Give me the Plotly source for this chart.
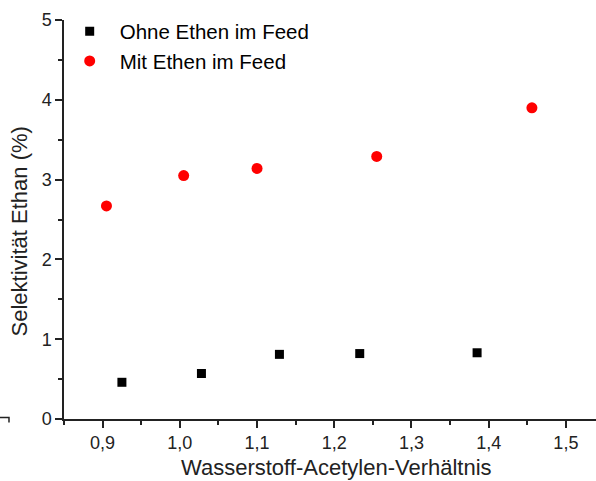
import plotly.graph_objects as go

# Wasserstoff-Acetylen-Verhältnis and Ethan selectivity (%)
x_ohne = [0.925, 1.028, 1.129, 1.233, 1.385]
y_ohne = [0.46, 0.57, 0.81, 0.82, 0.83]

x_mit = [0.905, 1.005, 1.100, 1.255, 1.456]
y_mit = [2.67, 3.05, 3.14, 3.29, 3.90]

x_tickvals = [0.9, 1.0, 1.1, 1.2, 1.3, 1.4, 1.5]
x_ticktext = ["0,9", "1,0", "1,1", "1,2", "1,3", "1,4", "1,5"]
y_tickvals = [0, 1, 2, 3, 4, 5]

x_title = "Wasserstoff-Acetylen-Verhältnis"
y_title = "Selektivität Ethan (%)"

FONT = "Liberation Sans, Arial, sans-serif"
INK = "#222222"

fig = go.Figure()
fig.add_trace(go.Scatter(
    x=x_ohne, y=y_ohne, mode="markers", name="Ohne Ethen im Feed",
    marker=dict(symbol="square", size=9, color="black", line=dict(width=0)),
))
fig.add_trace(go.Scatter(
    x=x_mit, y=y_mit, mode="markers", name="Mit Ethen im Feed",
    marker=dict(symbol="circle", size=11, color="#ff0000", line=dict(width=0)),
))

axis_common = dict(
    showline=True, linecolor=INK, linewidth=1.5,
    ticks="outside", tickcolor=INK, tickwidth=1.5, ticklen=7,
    showgrid=False, zeroline=False, mirror=False,
    tickfont=dict(family=FONT, size=18, color=INK),
)

fig.update_xaxes(
    range=[0.85, 1.539], tickvals=x_tickvals, ticktext=x_ticktext,
    minor=dict(dtick=0.05, ticks="outside", ticklen=4, tickcolor=INK, tickwidth=1.5),
    **axis_common,
)
fig.update_yaxes(
    range=[0, 5], tickvals=y_tickvals,
    minor=dict(dtick=0.5, ticks="outside", ticklen=4, tickcolor=INK, tickwidth=1.5),
    **axis_common,
)

# axis titles
fig.add_annotation(text=x_title, xref="paper", yref="paper", x=0.512, y=-0.121,
                   xanchor="center", yanchor="middle", showarrow=False,
                   font=dict(family=FONT, size=22, color=INK))
fig.add_annotation(text=y_title, xref="paper", yref="paper", x=-0.0846, y=0.47,
                   xanchor="center", yanchor="middle", showarrow=False, textangle=-90,
                   font=dict(family=FONT, size=22, color=INK))

# small bracket mark at the lower left edge
fig.add_shape(type="path", xref="paper", yref="paper",
              path="M -0.1203 0.0035 L -0.1034 0.0035 L -0.1034 -0.0090",
              line=dict(color=INK, width=1.5))

fig.update_layout(
    width=596, height=481,
    margin=dict(l=64, r=0, t=19.5, b=61.5),
    plot_bgcolor="white", paper_bgcolor="white",
    showlegend=True,
    legend=dict(x=-0.0081, y=1.0215, xanchor="left", yanchor="top",
                bgcolor="rgba(0,0,0,0)", borderwidth=0,
                font=dict(family=FONT, size=20.5, color="black"),
                itemwidth=50, tracegroupgap=0),
)

fig.write_html("out.html")
